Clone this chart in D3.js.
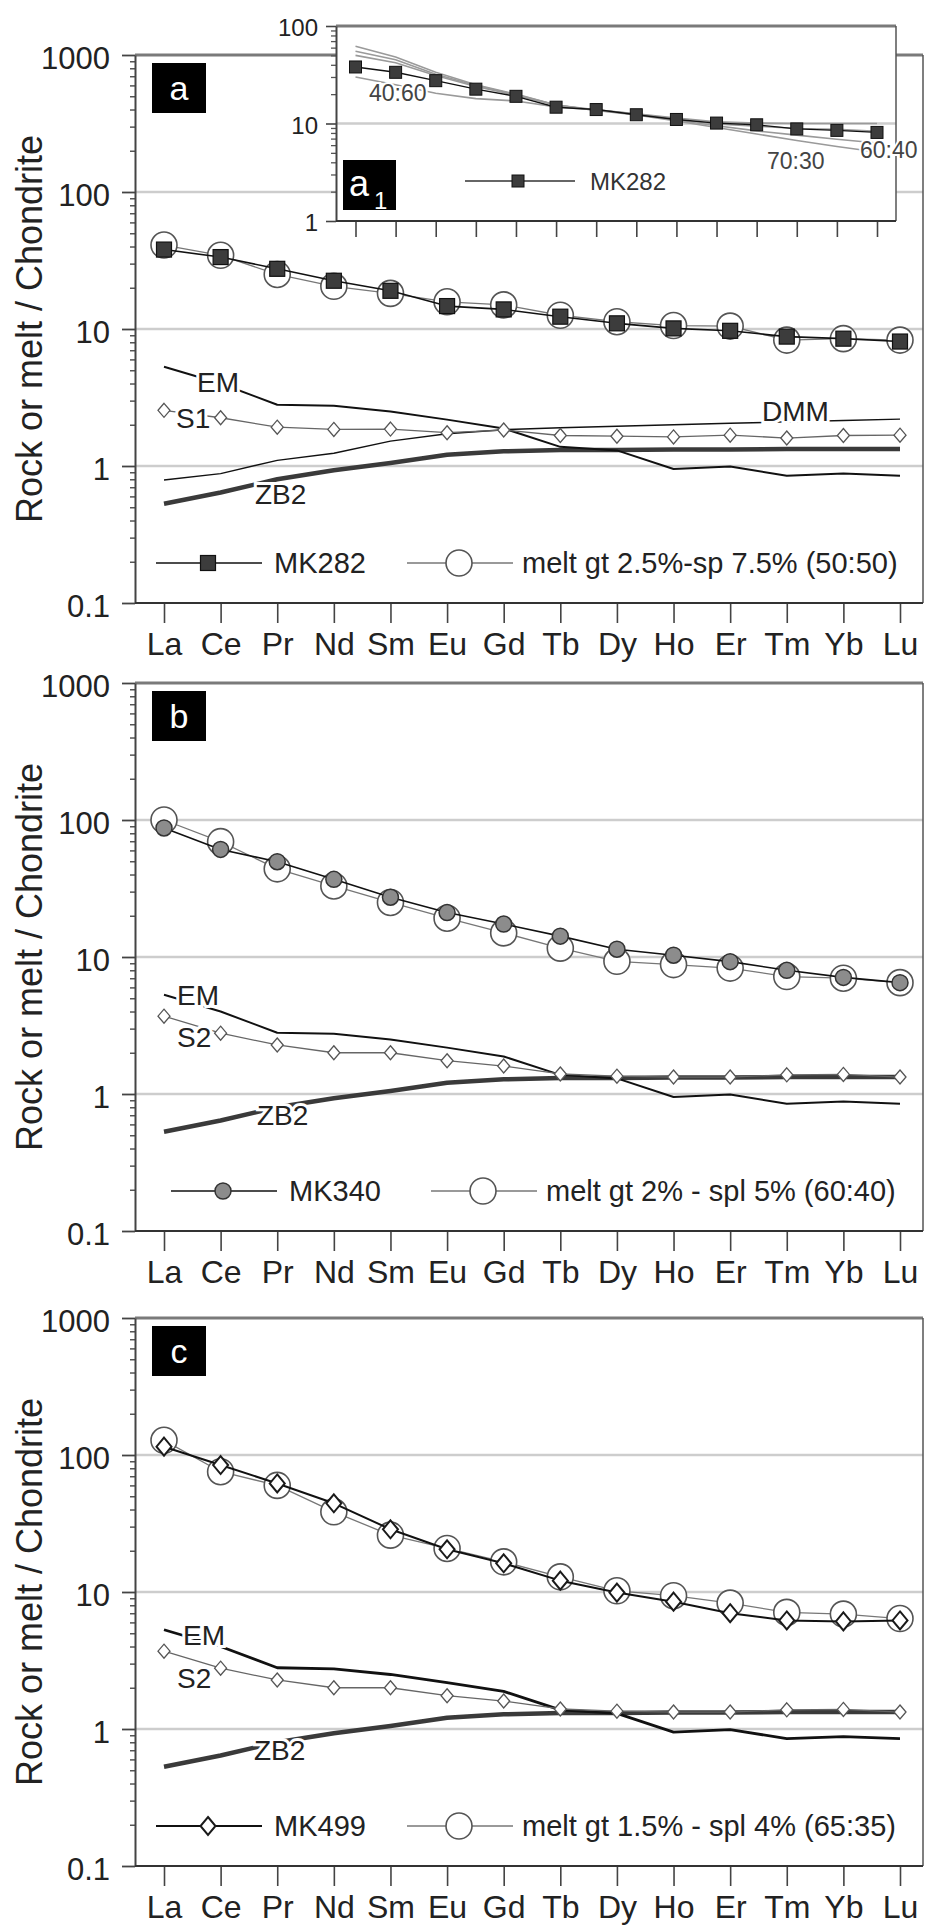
<!DOCTYPE html>
<html>
<head>
<meta charset="utf-8">
<script src="https://cdn.jsdelivr.net/npm/d3@7"></script>
<style>
  body { margin: 0; background: #fff; }
  svg { display: block; font-family: "Liberation Sans", Arial, sans-serif; }
</style>
</head>
<body>
<svg id="chart" width="925" height="1927"></svg>
<script>
// ---- data ----
const ree = ["La","Ce","Pr","Nd","Sm","Eu","Gd","Tb","Dy","Ho","Er","Tm","Yb","Lu"];
const yTicks = [0.1, 1, 10, 100, 1000];
const yTickLabels = ["0.1", "1", "10", "100", "1000"];
const insetTicks = [1, 10, 100];
const insetTickLabels = ["1", "10", "100"];

// reference curves (same in every panel)
const em  = [5.3, 4.0, 2.8, 2.75, 2.5, 2.18, 1.88, 1.38, 1.3, 0.95, 0.99, 0.85, 0.88, 0.85];
const zb2 = [0.53, 0.64, 0.8, 0.93, 1.05, 1.21, 1.28, 1.31, 1.31, 1.32, 1.32, 1.33, 1.33, 1.33];
const dmm = [0.79, 0.88, 1.1, 1.24, 1.52, 1.72, 1.84, 1.9, 1.95, 2.0, 2.05, 2.1, 2.15, 2.2];
const s1  = [2.55, 2.25, 1.92, 1.85, 1.86, 1.75, 1.83, 1.67, 1.65, 1.63, 1.68, 1.6, 1.67, 1.68];
const s2  = [3.7, 2.78, 2.28, 2.0, 2.0, 1.75, 1.6, 1.4, 1.35, 1.33, 1.33, 1.38, 1.39, 1.33];

// samples and modelled melts
const mk282 = [38, 33.5, 27.5, 22.5, 19, 14.7, 13.9, 12.3, 11, 10.1, 9.7, 8.8, 8.5, 8.1];
const meltA = [41, 34.5, 25, 20.5, 18.2, 15.8, 15, 12.6, 11.3, 10.6, 10.5, 8.3, 8.5, 8.3];
const mk340 = [87.5, 61, 49.6, 36.9, 27.3, 21.1, 17.4, 14.2, 11.4, 10.3, 9.25, 8.0, 7.1, 6.5];
const meltB = [100, 69.5, 44, 33, 25, 19.2, 15, 11.6, 9.3, 8.8, 8.3, 7.2, 7.0, 6.5];
const mk499 = [115, 84.5, 62, 44.4, 28.7, 20.5, 16.2, 12.1, 9.9, 8.5, 7.0, 6.2, 6.1, 6.2];
const meltC = [128, 75.5, 60, 38.5, 26, 20.8, 16.6, 12.9, 10.2, 9.4, 8.3, 7.1, 6.9, 6.4];

// inset a1: melts with different gt:sp proportions
const m40_60 = [30, 25, 20.4, 18, 17, 14.8, 13.8, 12.6, 11.4, 10.4, 10.1, 10, 10, 10];
const m50_50 = [50, 42, 31, 24, 19.5, 15.5, 13.8, 12.5, 11, 9.9, 9.4, 8.9, 8.7, 8.3];
const m60_40 = [55, 45, 32, 24.5, 19.8, 15.5, 13.7, 12.4, 10.8, 9.5, 8.4, 7.6, 6.9, 6.3];
const m70_30 = [62, 48, 33.5, 25, 20, 15.5, 13.6, 12.2, 10.6, 9.1, 7.8, 6.7, 5.8, 5.1];

// ---- drawing ----
const svg = d3.select("#chart");
const FONT = '"Liberation Sans", Arial, sans-serif';
const TXT = "#222";
const xLeft = 135, xRight = 923, decade = 137;

function marker(g, type, cx, cy) {
  if (type === "square") {
    g.append("rect").attr("x", cx - 7.5).attr("y", cy - 7.5).attr("width", 15).attr("height", 15)
      .attr("fill", "#3c3c3c").attr("stroke", "#111").attr("stroke-width", 1.2);
  } else if (type === "graycircle") {
    g.append("circle").attr("cx", cx).attr("cy", cy).attr("r", 8)
      .attr("fill", "#8c8c8c").attr("stroke", "#333").attr("stroke-width", 1.5);
  } else if (type === "diamond") {
    g.append("path").attr("d", `M${cx},${cy - 9}L${cx + 7.5},${cy}L${cx},${cy + 9}L${cx - 7.5},${cy}Z`)
      .attr("fill", "#fff").attr("stroke", "#1a1a1a").attr("stroke-width", 2);
  } else if (type === "smalldiamond") {
    g.append("path").attr("d", `M${cx},${cy - 7}L${cx + 6},${cy}L${cx},${cy + 7}L${cx - 6},${cy}Z`)
      .attr("fill", "#fff").attr("stroke", "#555").attr("stroke-width", 1.3);
  } else if (type === "melt") {
    g.append("circle").attr("cx", cx).attr("cy", cy).attr("r", 13)
      .attr("fill", "#fff").attr("stroke", "#555").attr("stroke-width", 1.6);
  }
}

function series(g, x, y, vals, opt) {
  const line = d3.line().x((d, i) => x(ree[i])).y(d => y(d));
  const start = opt.skipFirst ? 1 : 0;
  g.append("path").datum(vals)
    .attr("d", line)
    .attr("fill", "none").attr("stroke", opt.stroke).attr("stroke-width", opt.width)
    .attr("stroke-linejoin", "round");
  if (opt.marker) {
    vals.forEach((v, i) => marker(g, opt.marker, x(ree[i]), y(v)));
  }
}

function haloLabel(g, text, px, py, size) {
  g.append("text").attr("x", px).attr("y", py).attr("dy", "0.36em")
    .attr("font-size", size).attr("fill", TXT)
    .attr("stroke", "#fff").attr("stroke-width", 6).attr("paint-order", "stroke")
    .text(text);
}

function drawPanel(cfg) {
  const top = cfg.top;
  const x = d3.scalePoint().domain(ree).range([164, 900]);
  const y = d3.scaleLog().domain([0.1, 1000]).range([top + 4 * decade, top]);
  const g = svg.append("g");

  // gridlines
  g.selectAll("line.grid").data([1, 10, 100]).join("line").attr("class", "grid")
    .attr("x1", xLeft).attr("x2", xRight).attr("y1", d => y(d)).attr("y2", d => y(d))
    .attr("stroke", "#cdcdcd").attr("stroke-width", 2.5);

  // frame top & right
  g.append("line").attr("x1", xLeft).attr("x2", xRight).attr("y1", y(1000)).attr("y2", y(1000))
    .attr("stroke", "#7a7a7a").attr("stroke-width", 3);
  g.append("line").attr("x1", xRight).attr("x2", xRight).attr("y1", y(1000)).attr("y2", y(0.1))
    .attr("stroke", "#555").attr("stroke-width", 1.5);

  // y axis
  const minor = [];
  for (let e = -1; e < 3; e++) for (let k = 2; k < 10; k++) minor.push(k * Math.pow(10, e));
  g.append("g").attr("transform", `translate(${xLeft},0)`)
    .call(d3.axisLeft(y).tickValues(minor).tickSize(5).tickFormat(""))
    .call(a => a.select(".domain").remove())
    .call(a => a.selectAll("line").attr("stroke", "#555").attr("stroke-width", 1.5));
  g.append("g").attr("transform", `translate(${xLeft},0)`)
    .call(d3.axisLeft(y).tickValues(yTicks).tickSize(13).tickSizeOuter(0).tickPadding(12)
      .tickFormat(d => yTickLabels[yTicks.indexOf(d)]))
    .attr("font-size", 31).attr("font-family", FONT)
    .call(a => a.select(".domain").attr("stroke", "#444").attr("stroke-width", 2))
    .call(a => a.selectAll("line").attr("stroke", "#444").attr("stroke-width", 1.8))
    .call(a => a.selectAll("text").attr("fill", TXT).attr("dy", "0.45em"));

  // x axis
  g.append("g").attr("transform", `translate(0,${y(0.1)})`)
    .call(d3.axisBottom(x).tickSize(20).tickPadding(9))
    .attr("font-size", 32).attr("font-family", FONT)
    .call(a => a.select(".domain").remove())
    .call(a => a.selectAll("line").attr("stroke", "#444").attr("stroke-width", 1.6))
    .call(a => a.selectAll("text").attr("fill", TXT));
  g.append("line").attr("x1", xLeft).attr("x2", xRight).attr("y1", y(0.1)).attr("y2", y(0.1))
    .attr("stroke", "#333").attr("stroke-width", 2.2);

  // y title
  g.append("text")
    .attr("transform", `translate(42,${(y(1000) + y(0.1)) / 2}) rotate(-90)`)
    .attr("text-anchor", "middle").attr("font-size", 36).attr("fill", TXT)
    .text("Rock or melt / Chondrite");

  // reference curves
  if (cfg.dmm) series(g, x, y, cfg.dmm, { stroke: "#111", width: 1.4 });
  series(g, x, y, zb2, { stroke: "#3a3a3a", width: 4.5 });
  series(g, x, y, em, { stroke: "#111", width: cfg.emWidth });
  series(g, x, y, cfg.src, { stroke: "#666", width: 1.3, marker: "smalldiamond" });

  // melt and sample
  series(g, x, y, cfg.melt, { stroke: "#777", width: 1.3, marker: "melt" });
  series(g, x, y, cfg.sample, { stroke: "#111", width: cfg.sampleWidth, marker: cfg.sampleMarker });

  // curve labels
  cfg.labels.forEach(l => haloLabel(g, l.text, l.x, y(l.v), 28));

  // legend
  const ly = y(0.1) - 40;
  const L = cfg.legend;
  g.append("line").attr("x1", L.s0).attr("x2", L.s0 + 106).attr("y1", ly).attr("y2", ly)
    .attr("stroke", "#111").attr("stroke-width", cfg.sampleWidth);
  marker(g, cfg.sampleMarker, L.s0 + 52, ly);
  g.append("text").attr("x", L.s0 + 118).attr("y", ly).attr("dy", "0.36em")
    .attr("font-size", 29).attr("fill", TXT).text(cfg.sampleName);
  g.append("line").attr("x1", L.m0).attr("x2", L.m0 + 106).attr("y1", ly).attr("y2", ly)
    .attr("stroke", "#777").attr("stroke-width", 1.3);
  marker(g, "melt", L.m0 + 52, ly);
  g.append("text").attr("x", L.m0 + 115).attr("y", ly).attr("dy", "0.36em")
    .attr("font-size", 29).attr("fill", TXT).text(cfg.meltName);

  // panel letter
  g.append("rect").attr("x", 152).attr("y", y(1000) + 8).attr("width", 54).attr("height", 50)
    .attr("fill", "#000");
  g.append("text").attr("x", 179).attr("y", y(1000) + 33).attr("dy", "0.36em")
    .attr("text-anchor", "middle").attr("font-size", 34).attr("fill", "#fff").text(cfg.letter);

  return { x, y, g };
}

drawPanel({
  top: 55, letter: "a", sample: mk282, melt: meltA, src: s1, dmm: dmm,
  sampleMarker: "square", sampleWidth: 1.6, emWidth: 2,
  sampleName: "MK282", meltName: "melt gt 2.5%-sp 7.5% (50:50)",
  legend: { s0: 156, m0: 407 },
  labels: [
    { text: "EM", x: 197, v: 4.1 },
    { text: "S1", x: 176, v: 2.24 },
    { text: "ZB2", x: 255, v: 0.625 },
    { text: "DMM", x: 762, v: 2.52 }
  ]
});

drawPanel({
  top: 683, letter: "b", sample: mk340, melt: meltB, src: s2, dmm: null,
  sampleMarker: "graycircle", sampleWidth: 1.6, emWidth: 2,
  sampleName: "MK340", meltName: "melt gt 2% - spl 5% (60:40)",
  legend: { s0: 171, m0: 431 },
  labels: [
    { text: "EM", x: 177, v: 5.3 },
    { text: "S2", x: 177, v: 2.6 },
    { text: "ZB2", x: 257, v: 0.70 }
  ]
});

drawPanel({
  top: 1318, letter: "c", sample: mk499, melt: meltC, src: s2, dmm: null,
  sampleMarker: "diamond", sampleWidth: 2, emWidth: 2.8,
  sampleName: "MK499", meltName: "melt gt 1.5% - spl 4% (65:35)",
  legend: { s0: 156, m0: 407 },
  labels: [
    { text: "EM", x: 183, v: 4.85 },
    { text: "S2", x: 177, v: 2.35 },
    { text: "ZB2", x: 254, v: 0.70 }
  ]
});

// ---- inset a1 ----
(function inset() {
  const ix0 = 336, ix1 = 896, iy0 = 26, iy1 = 221;
  const x = d3.scalePoint().domain(ree).range([355.5, 877]);
  const y = d3.scaleLog().domain([1, 100]).range([iy1, iy0]);
  const g = svg.append("g");
  g.append("rect").attr("x", ix0).attr("y", iy0).attr("width", ix1 - ix0).attr("height", iy1 - iy0)
    .attr("fill", "#fff");
  g.append("line").attr("x1", ix0).attr("x2", ix1).attr("y1", y(10)).attr("y2", y(10))
    .attr("stroke", "#cdcdcd").attr("stroke-width", 2.5);
  g.append("line").attr("x1", ix0).attr("x2", ix1).attr("y1", iy0).attr("y2", iy0)
    .attr("stroke", "#7a7a7a").attr("stroke-width", 3);
  g.append("line").attr("x1", ix1).attr("x2", ix1).attr("y1", iy0).attr("y2", iy1)
    .attr("stroke", "#555").attr("stroke-width", 1.5);

  const minor = [];
  for (let e = 0; e < 2; e++) for (let k = 2; k < 10; k++) minor.push(k * Math.pow(10, e));
  g.append("g").attr("transform", `translate(${ix0},0)`)
    .call(d3.axisLeft(y).tickValues(minor).tickSize(5).tickFormat(""))
    .call(a => a.select(".domain").remove())
    .call(a => a.selectAll("line").attr("stroke", "#555").attr("stroke-width", 1.3));
  g.append("g").attr("transform", `translate(${ix0},0)`)
    .call(d3.axisLeft(y).tickValues(insetTicks).tickSize(10).tickSizeOuter(0).tickPadding(8)
      .tickFormat(d => insetTickLabels[insetTicks.indexOf(d)]))
    .attr("font-size", 24).attr("font-family", FONT)
    .call(a => a.select(".domain").attr("stroke", "#444").attr("stroke-width", 2))
    .call(a => a.selectAll("line").attr("stroke", "#444").attr("stroke-width", 1.6))
    .call(a => a.selectAll("text").attr("fill", TXT).attr("dy", "0.4em"));
  g.append("g").attr("transform", `translate(0,${iy1})`)
    .call(d3.axisBottom(x).tickSize(16).tickFormat(""))
    .call(a => a.select(".domain").remove())
    .call(a => a.selectAll("line").attr("stroke", "#444").attr("stroke-width", 1.6));
  g.append("line").attr("x1", ix0).attr("x2", ix1).attr("y1", iy1).attr("y2", iy1)
    .attr("stroke", "#333").attr("stroke-width", 2);

  const line = d3.line().x((d, i) => x(ree[i])).y(d => y(d));
  [m40_60, m50_50, m60_40, m70_30].forEach(m => {
    g.append("path").datum(m).attr("d", line).attr("fill", "none")
      .attr("stroke", "#9a9a9a").attr("stroke-width", 1.6);
  });
  g.append("path").datum(mk282).attr("d", line).attr("fill", "none")
    .attr("stroke", "#111").attr("stroke-width", 1.4);
  mk282.forEach((v, i) => {
    g.append("rect").attr("x", x(ree[i]) - 6).attr("y", y(v) - 6).attr("width", 12).attr("height", 12)
      .attr("fill", "#3c3c3c").attr("stroke", "#111").attr("stroke-width", 1);
  });

  const lab = (t, px, v) => g.append("text").attr("x", px).attr("y", y(v)).attr("dy", "0.36em")
    .attr("font-size", 23).attr("fill", "#444")
    .attr("stroke", "#fff").attr("stroke-width", 4).attr("paint-order", "stroke").text(t);
  lab("40:60", 369, 20.7);
  lab("70:30", 767, 4.2);
  lab("60:40", 860, 5.4);

  // legend
  g.append("line").attr("x1", 465).attr("x2", 575).attr("y1", 181).attr("y2", 181)
    .attr("stroke", "#333").attr("stroke-width", 1.4);
  g.append("rect").attr("x", 512).attr("y", 175).attr("width", 12).attr("height", 12)
    .attr("fill", "#3c3c3c").attr("stroke", "#111");
  g.append("text").attr("x", 590).attr("y", 181).attr("dy", "0.36em")
    .attr("font-size", 24).attr("fill", "#333").text("MK282");

  // a1 box
  g.append("rect").attr("x", 343).attr("y", 160).attr("width", 53).attr("height", 50).attr("fill", "#000");
  g.append("text").attr("x", 349).attr("y", 196).attr("font-size", 36).attr("fill", "#fff").text("a");
  g.append("text").attr("x", 374).attr("y", 209).attr("font-size", 24).attr("fill", "#fff").text("1");
})();
</script>
</body>
</html>
